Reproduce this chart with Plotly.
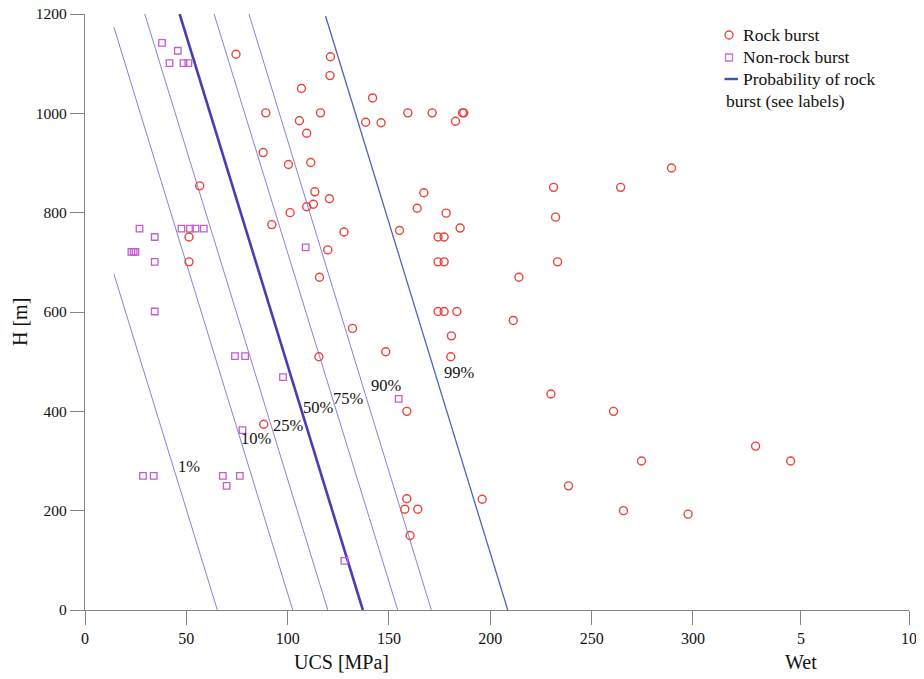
import plotly.graph_objects as go

# ---- data ----
rock_ucs = [74.5, 121.1, 120.9, 106.8, 141.9, 89.2, 116.2, 105.8, 109.4, 138.5,
            146.1, 159.3, 171.3, 186.3, 186.9, 182.8, 87.9, 100.4, 111.4, 56.6,
            113.4, 120.6, 112.7, 109.4, 101.2, 92.2, 127.8, 51.3, 119.8, 51.3,
            115.7, 132.0, 115.4, 88.2, 231.2, 264.3, 167.2, 163.9, 178.2, 155.2,
            185.1, 232.2, 174.2, 177.2, 174.2, 177.2, 233.2, 214.1, 174.2, 177.2,
            183.5, 289.4, 211.3, 180.8, 148.4, 180.5, 229.9, 260.8, 158.8, 274.6,
            238.6, 158.8, 157.8, 164.2, 196.0, 265.7, 160.4, 330.9, 348.2, 297.6]
rock_h = [1119, 1114, 1076, 1050, 1031, 1001, 1001, 985, 960, 982,
          981, 1001, 1001, 1001, 1001, 984, 921, 897, 901, 854,
          842, 828, 817, 812, 800, 776, 761, 751, 725, 701,
          670, 567, 510, 374, 851, 851, 840, 809, 799, 764,
          769, 791, 751, 751, 701, 701, 701, 670, 601, 601,
          601, 890, 583, 552, 520, 510, 435, 400, 400, 300,
          250, 224, 203, 203, 223, 200, 150, 330, 300, 193]

non_ucs = [38.0, 45.8, 41.7, 48.6, 51.0, 26.9, 47.6, 51.8, 54.5, 58.6,
           34.4, 22.9, 24.0, 24.9, 34.4, 108.9, 34.4, 74.0, 79.0, 97.7,
           77.7, 154.8, 28.6, 33.9, 68.0, 76.4, 69.9, 128.0]
non_h = [1142, 1126, 1101, 1101, 1101, 768, 768, 768, 768, 768,
         751, 721, 721, 721, 701, 730, 601, 511, 511, 469,
         362, 425, 270, 270, 270, 270, 250, 99]

# probability lines: (UCS, H) at upper end and UCS at H = 0
prob_labels = ["1%", "10%", "25%", "50%", "75%", "90%", "99%"]
prob_ucs_top = [14.3, 14.3, 29.5, 46.7, 63.7, 80.9, 118.7]
prob_h_top = [676, 1173, 1200, 1200, 1200, 1200, 1196]
prob_ucs_bottom = [65.3, 102.5, 119.8, 137.1, 154.3, 170.9, 208.6]
prob_label_ucs = [51.2, 84.6, 100.2, 115.0, 129.8, 148.8, 184.6]
prob_label_h = [288.5, 345.5, 370.8, 407.9, 426.8, 453.0, 477.7]

x_tickvals = [0, 50, 100, 150, 200, 250, 300, 353.3, 406.6]
x_ticktext = ["0", "50", "100", "150", "200", "250", "300", "5", "10"]
y_tickvals = [0, 200, 400, 600, 800, 1000, 1200]

FONT = "Times New Roman, Liberation Serif, serif"
RED = "#e8443a"
MAG = "#c45ccf"

fig = go.Figure()

for i, lab in enumerate(prob_labels):
    if lab == "50%":
        color, width = "#4a3db4", 2.6
    elif lab == "99%":
        color, width = "#5262c0", 1.3
    else:
        color, width = "#8a80da", 1.0
    fig.add_trace(go.Scatter(
        x=[prob_ucs_top[i], prob_ucs_bottom[i]],
        y=[prob_h_top[i], 0],
        mode="lines", line=dict(color=color, width=width),
        showlegend=False, hoverinfo="skip"))
    fig.add_annotation(x=prob_label_ucs[i], y=prob_label_h[i], text=lab,
                       showarrow=False, xref="x", yref="y",
                       xanchor="center", yanchor="middle",
                       font=dict(family=FONT, size=16.5, color="#111"))

fig.add_trace(go.Scatter(
    x=non_ucs, y=non_h, mode="markers", name="Non-rock burst",
    marker=dict(symbol="square-open", size=6.5, color=MAG, line=dict(width=1.3, color=MAG)),
    showlegend=False))
fig.add_trace(go.Scatter(
    x=rock_ucs, y=rock_h, mode="markers", name="Rock burst",
    marker=dict(symbol="circle-open", size=8, color=RED, line=dict(width=1.4, color=RED)),
    showlegend=False))

# ---- custom legend (window pixel positions converted to paper coords) ----
L, T, W, H = 85, 14, 824, 596
def px(xp):
    return (xp - L) / W
def py(yp):
    return (T + H - yp) / H

fig.add_shape(type="circle", xref="paper", yref="paper",
              x0=px(725), x1=px(733), y0=py(39), y1=py(31),
              line=dict(color=RED, width=1.3))
fig.add_shape(type="rect", xref="paper", yref="paper",
              x0=px(725.5), x1=px(732.5), y0=py(61), y1=py(54),
              line=dict(color="#d070d8", width=1.3))
fig.add_shape(type="line", xref="paper", yref="paper",
              x0=px(724.5), x1=px(738), y0=py(79), y1=py(79),
              line=dict(color="#3f55b8", width=2.4))
legend_texts = ["Rock burst", "Non-rock burst", "Probability of rock"]
legend_y = [35, 57, 79]
for t, yy in zip(legend_texts, legend_y):
    fig.add_annotation(x=px(741), y=py(yy), xref="paper", yref="paper",
                       text=t, showarrow=False, xanchor="left", yanchor="middle",
                       font=dict(family=FONT, size=17.5, color="#111"))
fig.add_annotation(x=px(724), y=py(101), xref="paper", yref="paper",
                   text="burst (see labels)", showarrow=False, xanchor="left",
                   yanchor="middle", font=dict(family=FONT, size=17.5, color="#111"))

# axis titles
fig.add_annotation(x=px(341), y=py(662), xref="paper", yref="paper",
                   text="UCS [MPa]", showarrow=False,
                   xanchor="center", yanchor="middle",
                   font=dict(family=FONT, size=20, color="#111"))
fig.add_annotation(x=px(801), y=py(662), xref="paper", yref="paper",
                   text="Wet", showarrow=False,
                   xanchor="center", yanchor="middle",
                   font=dict(family=FONT, size=20, color="#111"))
fig.add_annotation(x=px(20), y=py(322), xref="paper", yref="paper",
                   text="H [m]", showarrow=False, textangle=-90,
                   xanchor="center", yanchor="middle",
                   font=dict(family=FONT, size=20, color="#111"))

# page body has an 8px margin, so the figure is offset by 8px
fig.update_layout(
    width=916, height=671,
    margin=dict(l=77, r=15, t=6, b=69, autoexpand=False),
    paper_bgcolor="white", plot_bgcolor="white",
    showlegend=False,
    font=dict(family=FONT, size=16, color="#111"),
    xaxis=dict(range=[0, 406.6], tickmode="array", tickvals=x_tickvals,
               ticktext=x_ticktext, showgrid=False, zeroline=False,
               showline=True, linecolor="#858585", linewidth=1.2,
               ticks="outside", ticklen=14, tickcolor="#858585", tickwidth=1.2,
               automargin=False, ticklabeloverflow="allow",
               tickfont=dict(family=FONT, size=16, color="#111")),
    yaxis=dict(range=[0, 1200], tickmode="array", tickvals=y_tickvals,
               showgrid=False, zeroline=False,
               showline=True, linecolor="#858585", linewidth=1.2,
               ticks="outside", ticklen=14, tickcolor="#858585", tickwidth=1.2,
               automargin=False, ticklabeloverflow="allow",
               tickfont=dict(family=FONT, size=15.5, color="#111")),
)

fig.write_html("out.html")
